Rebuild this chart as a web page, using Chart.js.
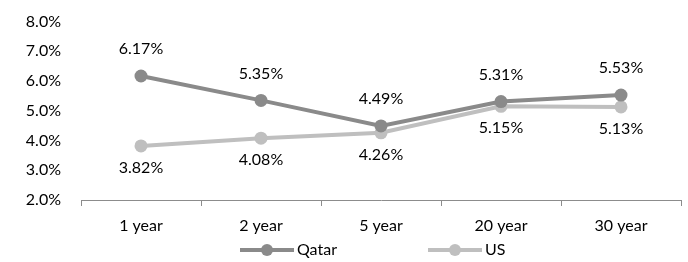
<!DOCTYPE html>
<html>
<head>
<meta charset="utf-8">
<script src="https://cdn.jsdelivr.net/npm/chart.js@4"></script>
<style>
  html, body { margin: 0; padding: 0; background: #fff; }
  #wrap { width: 688px; height: 262px; }
</style>
</head>
<body>
<div id="wrap"><canvas id="yieldChart" width="688" height="262"></canvas></div>
<script>
  // Chart data
  const categories = ['1 year', '2 year', '5 year', '20 year', '30 year'];
  const qatarYields = [6.17, 5.35, 4.49, 5.31, 5.53];
  const usYields = [3.82, 4.08, 4.26, 5.15, 5.13];
  const yTicks = [2, 3, 4, 5, 6, 7, 8];

  const qatarColor = '#8a8a8a';
  const usColor = '#bfbfbf';
  const fontFamily = 'Lato, "Open Sans", sans-serif';
  const fontSize = 16;

  // Data labels: Qatar above, US below
  const valueLabels = {
      id: 'valueLabels',
      afterDatasetsDraw(chart) {
          const ctx = chart.ctx;
          ctx.save();
          ctx.font = fontSize + 'px ' + fontFamily;
          ctx.fillStyle = '#000';
          ctx.textAlign = 'center';
          ctx.textBaseline = 'middle';
          chart.data.datasets.forEach((ds, i) => {
              const meta = chart.getDatasetMeta(i);
              const dy = i === 0 ? -27 : 22;
              meta.data.forEach((pt, j) => {
                  ctx.fillText(ds.data[j].toFixed(2) + '%', pt.x, pt.y + dy);
              });
          });
          ctx.restore();
      }
  };

  // Legend with line + marker
  const lineLegend = {
      id: 'lineLegend',
      afterDraw(chart) {
          const ctx = chart.ctx;
          const y = 250;
          const items = [
              { x: 240, label: 'Qatar', color: qatarColor },
              { x: 428, label: 'US', color: usColor }
          ];
          ctx.save();
          items.forEach(it => {
              ctx.strokeStyle = it.color;
              ctx.lineWidth = 4;
              ctx.beginPath();
              ctx.moveTo(it.x, y);
              ctx.lineTo(it.x + 54, y);
              ctx.stroke();
              ctx.fillStyle = it.color;
              ctx.beginPath();
              ctx.arc(it.x + 27, y, 6, 0, Math.PI * 2);
              ctx.fill();
              ctx.fillStyle = '#000';
              ctx.font = fontSize + 'px ' + fontFamily;
              ctx.textAlign = 'left';
              ctx.textBaseline = 'middle';
              ctx.fillText(it.label, it.x + 57, y);
          });
          ctx.restore();
      }
  };

  new Chart(document.getElementById('yieldChart').getContext('2d'), {
      type: 'line',
      data: {
          labels: categories,
          datasets: [{
              label: 'Qatar',
              data: qatarYields,
              borderColor: qatarColor,
              backgroundColor: qatarColor,
              borderWidth: 4,
              pointRadius: 6.5,
              pointHoverRadius: 6.5,
              pointBorderWidth: 0
          }, {
              label: 'US',
              data: usYields,
              borderColor: usColor,
              backgroundColor: usColor,
              borderWidth: 4,
              pointRadius: 6.5,
              pointHoverRadius: 6.5,
              pointBorderWidth: 0
          }]
      },
      options: {
          responsive: false,
          animation: false,
          layout: { padding: { top: 14, right: 7, left: 0, bottom: 0 } },
          plugins: {
              legend: { display: false },
              tooltip: { enabled: false }
          },
          scales: {
              x: {
                  offset: true,
                  afterFit(scale) { scale.height = 62; },
                  grid: {
                      offset: true,
                      drawOnChartArea: false,
                      drawTicks: true,
                      tickLength: 6,
                      color: '#8c8c8c'
                  },
                  border: { display: true, color: '#8c8c8c', width: 1 },
                  ticks: {
                      color: '#000',
                      padding: 10,
                      maxRotation: 0,
                      font: { family: fontFamily, size: fontSize }
                  }
              },
              y: {
                  min: 2,
                  max: 8,
                  afterFit(scale) { scale.width = 81; },
                  afterBuildTicks(scale) {
                      scale.ticks = yTicks.map(v => ({ value: v }));
                  },
                  grid: { display: false },
                  border: { display: false },
                  ticks: {
                      color: '#000',
                      padding: 12,
                      font: { family: fontFamily, size: fontSize },
                      callback: v => v.toFixed(1) + '%'
                  }
              }
          }
      },
      plugins: [valueLabels, lineLegend]
  });
</script>
</body>
</html>
